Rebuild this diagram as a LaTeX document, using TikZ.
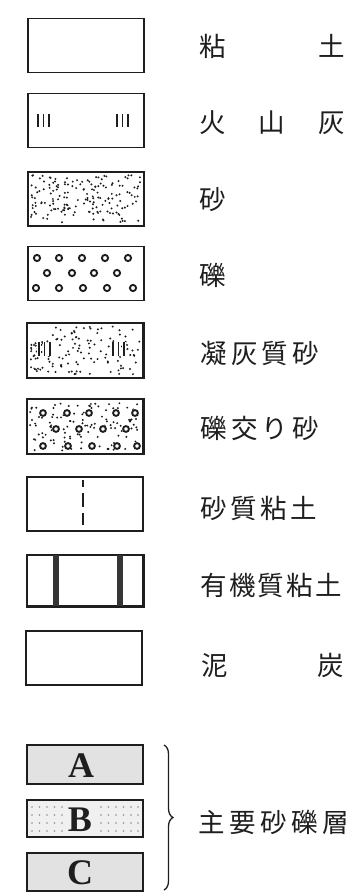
\documentclass[tikz,border=0pt]{standalone}
\usepackage{fontspec}
\newfontfamily\jp{Noto Sans CJK JP}
\newfontfamily\serifb{Liberation Serif}
\usetikzlibrary{decorations.pathreplacing}
\definecolor{ink}{RGB}{30,30,30}
\definecolor{grayA}{RGB}{226,226,226}
\definecolor{grayB}{RGB}{240,240,240}
\definecolor{dotB}{RGB}{140,140,140}
\newcommand\sanddots[4]{%
  \pgfmathsetseed{#4}%
  \foreach \k in {1,...,#3}{%
    \pgfmathsetmacro\dx{#1-55+110*rnd}%
    \pgfmathsetmacro\dy{#2-24+48*rnd}%
    \fill[ink] (\dx,\dy) circle (1.1pt);}}
\begin{document}
\begin{tikzpicture}[x=1pt,y=-1pt,
  legbox/.style={draw=ink,line width=1.5pt,minimum width=116pt,minimum height=54pt,inner sep=0pt,fill=white},
  abcbox/.style={draw=ink,line width=1.3pt,minimum width=116pt,inner sep=0pt},
  lab/.style={anchor=west,inner sep=0pt,text=ink,font=\jp\fontsize{26.5}{27}\selectfont},
  letter/.style={inner sep=0pt,text=ink,font=\serifb\bfseries\fontsize{36}{36}\selectfont},
  ash/.style={ink,line width=1.5pt},
  pebble/.style={ink,line width=1.9pt},
  bar/.style={fill=ink!90,draw=none}]
\useasboundingbox (0,0) rectangle (353,892);
% boxes
\node[legbox] (b1) at (86,45.5) {};
\node[legbox] (b2) at (86,120.5) {};
\node[legbox] (b3) at (86,199) {};
\node[legbox] (b4) at (86,273.5) {};
\node[legbox] (b5) at (85,350.5) {};
\node[legbox] (b6) at (85,426.5) {};
\node[legbox] (b7) at (85,504) {};
\node[legbox,minimum height=51pt] (b8) at (85,580.5) {};
\node[legbox] (b9) at (84,658) {};
% volcanic ash marks
\foreach \x in {38,43.5,49,117,122.5,128} \draw[ash] (\x,114) -- (\x,127);
% sand
\sanddots{86}{199}{170}{11}
% gravel
\foreach \x in {37,59,82,105,128} \draw[pebble] (\x,258) circle (3.1pt);
\foreach \x in {47,72,94,117} \draw[pebble] (\x,273) circle (3.1pt);
\foreach \x in {36,59,83,107,133} \draw[pebble] (\x,288) circle (3.1pt);
% tuffaceous sand
\sanddots{85}{350.5}{130}{23}
\foreach \x in {39,44.5,50,113,118.5,124} \fill[white] (\x-2,342) rectangle (\x+2,356);
\foreach \x in {39,44.5,50,113,118.5,124} \draw[ash] (\x,342) -- (\x,356);
% gravelly sand
\sanddots{85}{426.5}{120}{37}
\foreach \x in {43,67,89,116,135} {\fill[white] (\x,413) circle (4pt); \draw[pebble] (\x,413) circle (2.9pt);}
\foreach \x in {56,79,103,126} {\fill[white] (\x,429) circle (4pt); \draw[pebble] (\x,429) circle (2.9pt);}
\foreach \x in {43,68,92,117,137} {\fill[white] (\x,446) circle (4pt); \draw[pebble] (\x,446) circle (2.9pt);}
\draw[ink,line width=1.5pt] (b6.north west) rectangle (b6.south east);
\draw[ink,line width=1.5pt] (b5.north west) rectangle (b5.south east);
% sandy clay
\draw[ink,line width=1.5pt] (83,480) -- (83,487) (83,493) -- (83,507) (83,513) -- (83,525);
% organic clay
\fill[bar] (53,555) rectangle (59,606);
\fill[bar] (117,555) rectangle (123,606);
\draw[ink,line width=1.5pt] (b8.north west) rectangle (b8.south east);
% labels
\node[lab] (l1) at (199,46) {\makebox[146pt][s]{粘\hfill 土}};
\node[lab] (l2) at (199,123) {\makebox[146pt][s]{火\hfill 山\hfill 灰}};
\node[lab] (l3) at (199,200) {砂};
\node[lab] (l4) at (199,275) {礫};
\node[lab] (l5) at (200,353) {\makebox[119pt][s]{凝\hfill 灰\hfill 質\hfill 砂}};
\node[lab] (l6) at (200,428) {\makebox[119pt][s]{礫\hfill 交\hfill り\hfill 砂}};
\node[lab] (l7) at (200,508) {\makebox[117pt][s]{砂\hfill 質\hfill 粘\hfill 土}};
\node[lab] (l8) at (200,585) {\makebox[142pt][s]{有\hfill 機\hfill 質\hfill 粘\hfill 土}};
\node[lab] (l9) at (201,665) {\makebox[143pt][s]{泥\hfill 炭}};
% main sand-gravel layers
\node[abcbox,fill=grayA,minimum height=39pt] (bA) at (85,764.5) {};
\node[abcbox,fill=grayB,minimum height=37pt] (bB) at (85,818.5) {};
\node[abcbox,fill=grayA,minimum height=38pt] (bC) at (85,872) {};
\foreach \y in {807,815,823,831}{
  \foreach \x in {32,39.5,47,54.5,62} \fill[dotB] (\x,\y) circle (0.8pt);
  \foreach \x in {101,108.5,116,123.5,131,138} \fill[dotB] (\x,\y) circle (0.8pt);}
\node[letter] (tA) at (81,766) {A};
\node[letter] (tB) at (80,820) {B};
\node[letter] (tC) at (80,873) {C};
\coordinate (brT) at (164,745);
\coordinate (brB) at (164,890);
\draw[ink,line width=1.3pt,decorate,decoration={brace,amplitude=9pt}] (brT) -- (brB);
\node[lab] (l10) at (198,822) {\makebox[151pt][s]{主\hfill 要\hfill 砂\hfill 礫\hfill 層}};
\end{tikzpicture}
\end{document}
